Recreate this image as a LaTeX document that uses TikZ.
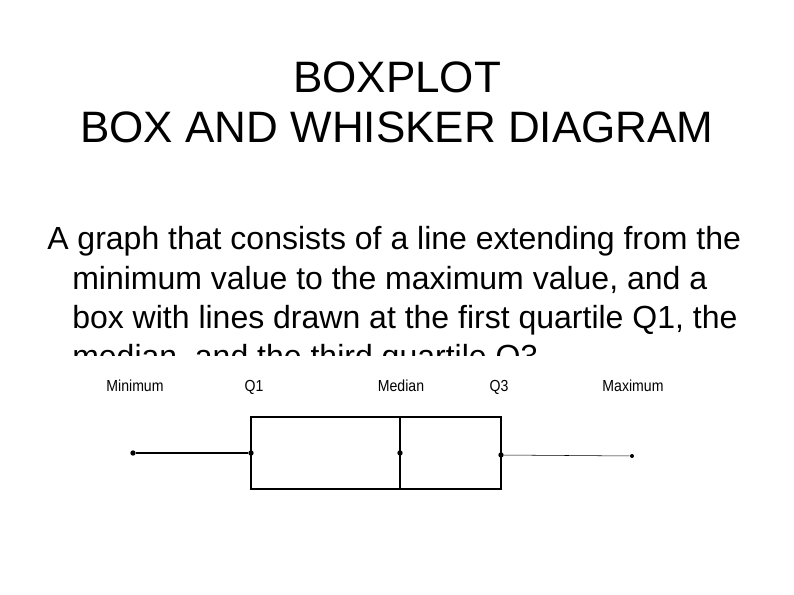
\documentclass[tikz,border=0pt]{standalone}
\usepackage{fontspec}
\setmainfont{Liberation Sans}
\begin{document}
\begin{tikzpicture}[x=0.75pt,y=-0.75pt,
  lbl/.style={anchor=base,font=\fontsize{12}{14}\selectfont,xscale=0.88,inner sep=0pt},
  pt/.style={circle,fill=black,inner sep=0pt,minimum size=4pt},
  body/.style={anchor=base west,font=\fontsize{24}{28}\selectfont,inner sep=0pt}]
\useasboundingbox (0,0) rectangle (794,595);
\fill[white] (0,0) rectangle (794,595);
\node[font=\fontsize{33}{38}\selectfont,anchor=base,inner sep=0pt] (title1) at (397,93) {BOXPLOT};
\node[font=\fontsize{33}{38}\selectfont,anchor=base,inner sep=0pt] (title2) at (397,143) {BOX AND WHISKER DIAGRAM};
\begin{scope}
\clip (0,200) rectangle (794,356);
\node[body] (l1) at (47,250) {A graph that consists of a line extending from the};
\node[body] (l2) at (72,290) {minimum value to the maximum value, and a};
\node[body] (l3) at (72,329) {box with lines drawn at the first quartile Q1, the};
\node[body] (l4) at (72,368) {median, and the third quartile Q3.};
\end{scope}
\node[lbl] (tmin) at (135,392) {Minimum};
\node[lbl] (tq1) at (254,392) {Q1};
\node[lbl] (tmed) at (401,392) {Median};
\node[lbl] (tq3) at (499,392) {Q3};
\node[lbl] (tmax) at (633,392) {Maximum};
\draw[thick] (251,417) rectangle (501,489);
\draw[thick] (400,417) -- (400,489);
\node[pt] (min) at (133,453) {};
\node[pt] (q1) at (251,453) {};
\node[pt] (med) at (400,453) {};
\node[pt] (q3) at (501,455) {};
\node[pt,minimum size=3pt] (max) at (632,456) {};
\draw[thick] (min) -- (q1);
\draw (q3) -- (max);
\end{tikzpicture}
\end{document}
